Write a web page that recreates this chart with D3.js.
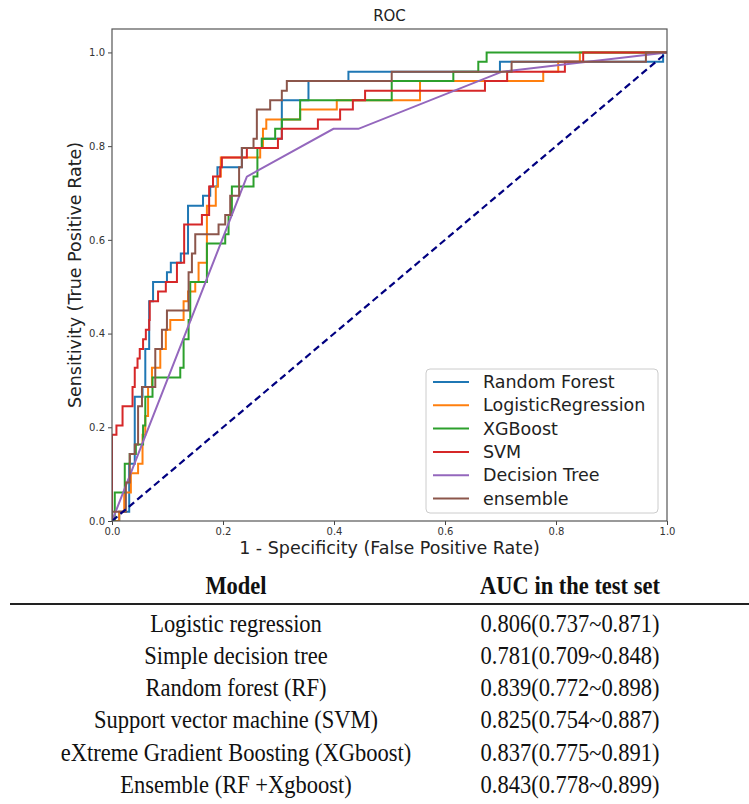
<!DOCTYPE html>
<html lang="en">
    <head>
        <meta charset="utf-8">
        <title>ROC</title>
        <script type="text/javascript" src="https://d3js.org/d3.v7.min.js"></script>
        <style type="text/css">
            body { margin: 0; background: #fff; }
        </style>
    </head>
    <body>
        <script type="text/javascript">
            // ROC points (false positive rate, true positive rate)
            var rfFpr = [0,0.013,0.013,0.031,0.031,0.041,0.041,0.055,0.055,0.060,0.060,0.067,0.067,0.074,0.074,0.099,0.099,0.106,0.106,0.124,0.124,0.137,0.137,0.164,0.164,0.177,0.177,0.190,0.190,0.234,0.234,0.270,0.270,0.306,0.306,0.354,0.354,0.426,0.426,0.699,0.699,0.993,0.993,1];
            var rfTpr = [0,0,0.020,0.020,0.122,0.122,0.265,0.265,0.286,0.286,0.367,0.367,0.469,0.469,0.510,0.510,0.531,0.531,0.551,0.551,0.571,0.571,0.673,0.673,0.694,0.694,0.714,0.714,0.755,0.755,0.796,0.796,0.816,0.816,0.898,0.898,0.939,0.939,0.959,0.959,0.980,0.980,1,1];

            var lrFpr = [0,0.013,0.013,0.022,0.022,0.034,0.034,0.047,0.047,0.055,0.055,0.060,0.060,0.065,0.065,0.072,0.072,0.087,0.087,0.097,0.097,0.105,0.105,0.129,0.129,0.137,0.137,0.150,0.150,0.156,0.156,0.171,0.171,0.187,0.187,0.191,0.191,0.196,0.196,0.267,0.267,0.272,0.272,0.278,0.278,0.339,0.339,0.405,0.405,0.555,0.555,0.777,0.777,0.804,0.804,0.843,0.843,1];
            var lrTpr = [0,0,0.020,0.020,0.061,0.061,0.102,0.102,0.122,0.122,0.184,0.184,0.224,0.224,0.286,0.286,0.327,0.327,0.367,0.367,0.408,0.408,0.429,0.429,0.469,0.469,0.490,0.490,0.510,0.510,0.551,0.551,0.673,0.673,0.714,0.714,0.735,0.735,0.776,0.776,0.796,0.796,0.837,0.837,0.857,0.857,0.878,0.878,0.898,0.898,0.939,0.939,0.959,0.959,0.980,0.980,1,1];

            var xgbFpr = [0,0.005,0.005,0.023,0.023,0.032,0.032,0.043,0.043,0.056,0.056,0.060,0.060,0.073,0.073,0.123,0.123,0.129,0.129,0.138,0.138,0.141,0.141,0.171,0.171,0.204,0.204,0.210,0.210,0.216,0.216,0.255,0.255,0.262,0.262,0.270,0.270,0.294,0.294,0.306,0.306,0.339,0.339,0.504,0.504,0.615,0.615,0.660,0.660,0.675,0.675,1];
            var xgbTpr = [0,0,0.061,0.061,0.122,0.122,0.143,0.143,0.163,0.163,0.204,0.204,0.265,0.265,0.306,0.306,0.327,0.327,0.388,0.388,0.429,0.429,0.510,0.510,0.592,0.592,0.612,0.612,0.653,0.653,0.714,0.714,0.735,0.735,0.796,0.796,0.816,0.816,0.837,0.837,0.857,0.857,0.898,0.898,0.939,0.939,0.959,0.959,0.980,0.980,1,1];

            var svmFpr = [0,0,0.008,0.008,0.019,0.019,0.037,0.037,0.041,0.041,0.046,0.046,0.050,0.050,0.056,0.056,0.061,0.061,0.067,0.067,0.068,0.068,0.083,0.083,0.097,0.097,0.117,0.117,0.130,0.130,0.162,0.162,0.175,0.175,0.182,0.182,0.195,0.195,0.198,0.198,0.243,0.243,0.299,0.299,0.306,0.306,0.371,0.371,0.411,0.411,0.434,0.434,0.456,0.456,0.672,0.672,0.712,0.712,0.816,0.816,0.849,0.849,1];
            var svmTpr = [0,0.184,0.184,0.204,0.204,0.245,0.245,0.286,0.286,0.327,0.327,0.347,0.347,0.367,0.367,0.388,0.388,0.408,0.408,0.429,0.429,0.469,0.469,0.490,0.490,0.510,0.510,0.551,0.551,0.633,0.633,0.653,0.653,0.714,0.714,0.735,0.735,0.755,0.755,0.776,0.776,0.796,0.796,0.816,0.816,0.837,0.837,0.857,0.857,0.878,0.878,0.898,0.898,0.918,0.918,0.939,0.939,0.959,0.959,0.980,0.980,1,1];

            var dtFpr = [0,0.243,0.399,0.444,0.703,1];
            var dtTpr = [0,0.735,0.837,0.837,0.959,1];

            var ensFpr = [0,0,0.025,0.025,0.032,0.032,0.041,0.041,0.047,0.047,0.054,0.054,0.078,0.078,0.090,0.090,0.099,0.099,0.138,0.138,0.144,0.144,0.150,0.150,0.192,0.192,0.204,0.204,0.213,0.213,0.229,0.229,0.234,0.234,0.255,0.255,0.261,0.261,0.285,0.285,0.306,0.306,0.315,0.315,0.504,0.504,0.720,0.720,0.962,0.962,1];
            var ensTpr = [0,0.020,0.020,0.082,0.082,0.143,0.143,0.163,0.163,0.245,0.245,0.286,0.286,0.367,0.367,0.408,0.408,0.449,0.449,0.531,0.531,0.571,0.571,0.612,0.612,0.633,0.633,0.653,0.653,0.694,0.694,0.755,0.755,0.796,0.796,0.816,0.816,0.878,0.878,0.898,0.898,0.918,0.918,0.939,0.939,0.959,0.959,0.980,0.980,1,1];

            var modelNames = ["Random Forest", "LogisticRegression", "XGBoost", "SVM", "Decision Tree", "ensemble"];
            var modelFpr = [rfFpr, lrFpr, xgbFpr, svmFpr, dtFpr, ensFpr];
            var modelTpr = [rfTpr, lrTpr, xgbTpr, svmTpr, dtTpr, ensTpr];
            var colors = ["#1f77b4", "#ff7f0e", "#2ca02c", "#d62728", "#9467bd", "#8c564b"];

            var ticks = [0, 0.2, 0.4, 0.6, 0.8, 1.0];

            // table under the plot
            var tableHeader = ["Model", "AUC in the test set"];
            var tableModels = ["Logistic regression", "Simple decision tree", "Random forest (RF)",
                               "Support vector machine (SVM)", "eXtreme Gradient Boosting (XGboost)", "Ensemble (RF +Xgboost)"];
            var tableAuc = ["0.806(0.737~0.871)", "0.781(0.709~0.848)", "0.839(0.772~0.898)",
                            "0.825(0.754~0.887)", "0.837(0.775~0.891)", "0.843(0.778~0.899)"];

            var w = 749;
            var h = 804;
            var plotL = 112, plotR = 667, plotT = 29, plotB = 521;
            var sans = "'DejaVu Sans', sans-serif";
            var serif = "'Liberation Serif', 'Times New Roman', serif";

            var svg = d3.select("body")
                        .append("svg")
                        .attr("width", w)
                        .attr("height", h);

            var x = d3.scaleLinear().domain([0, 1]).range([plotL, plotR]);
            var y = d3.scaleLinear().domain([0, 1.05]).range([plotB, plotT]);

            var line = d3.line()
                .x(function(d) { return x(d[0]); })
                .y(function(d) { return y(d[1]); });

            svg.append("defs").append("clipPath").attr("id", "plotclip")
               .append("rect")
               .attr("x", plotL).attr("y", plotT)
               .attr("width", plotR - plotL).attr("height", plotB - plotT);

            var curves = svg.append("g").attr("clip-path", "url(#plotclip)");

            modelNames.forEach(function(name, i) {
                var pts = modelFpr[i].map(function(f, j) { return [f, modelTpr[i][j]]; });
                curves.append("path")
                      .datum(pts)
                      .attr("d", line)
                      .attr("fill", "none")
                      .attr("stroke", colors[i])
                      .attr("stroke-width", 2)
                      .attr("stroke-linejoin", "miter");
            });

            // chance line
            curves.append("path")
                  .datum([[0, 0], [1, 1]])
                  .attr("d", line)
                  .attr("fill", "none")
                  .attr("stroke", "navy")
                  .attr("stroke-width", 2.2)
                  .attr("stroke-dasharray", "7,4");

            // axes
            var xAxis = d3.axisBottom(x).tickValues(ticks).tickFormat(d3.format(".1f")).tickSize(4).tickPadding(3);
            var yAxis = d3.axisLeft(y).tickValues(ticks).tickFormat(d3.format(".1f")).tickSize(4).tickPadding(3);

            var gx = svg.append("g").attr("transform", "translate(0," + plotB + ")").call(xAxis);
            var gy = svg.append("g").attr("transform", "translate(" + plotL + ",0)").call(yAxis);
            [gx, gy].forEach(function(g) {
                g.select(".domain").remove();
                g.selectAll("line").attr("stroke", "#444");
                g.selectAll("text").attr("font-family", sans).attr("font-size", "10px").attr("fill", "#333");
            });

            svg.append("rect")
               .attr("x", plotL).attr("y", plotT)
               .attr("width", plotR - plotL).attr("height", plotB - plotT)
               .attr("fill", "none")
               .attr("stroke", "#555")
               .attr("stroke-width", 1.2);

            svg.append("text")
               .text("ROC")
               .attr("x", (plotL + plotR) / 2)
               .attr("y", 21)
               .attr("text-anchor", "middle")
               .attr("font-family", sans)
               .attr("font-size", "15px")
               .attr("fill", "#222");

            svg.append("text")
               .text("1 - Specificity (False Positive Rate)")
               .attr("x", (plotL + plotR) / 2)
               .attr("y", 554)
               .attr("text-anchor", "middle")
               .attr("font-family", sans)
               .attr("font-size", "17.5px")
               .attr("fill", "#222");

            svg.append("text")
               .text("Sensitivity (True Positive Rate)")
               .attr("transform", "translate(81," + ((plotT + plotB) / 2) + ") rotate(-90)")
               .attr("text-anchor", "middle")
               .attr("font-family", sans)
               .attr("font-size", "17.5px")
               .attr("fill", "#222");

            // legend
            var legend = svg.append("g");
            legend.append("rect")
                  .attr("x", 426).attr("y", 369)
                  .attr("width", 232).attr("height", 144)
                  .attr("rx", 4)
                  .attr("fill", "#fff").attr("fill-opacity", 0.85)
                  .attr("stroke", "#ccc");

            var items = legend.selectAll("g.item")
                  .data(modelNames)
                  .enter()
                  .append("g")
                  .attr("transform", function(d, i) { return "translate(433," + (382 + i * 23.3) + ")"; });
            items.append("line")
                 .attr("x1", 0).attr("x2", 36)
                 .attr("stroke", function(d, i) { return colors[i]; })
                 .attr("stroke-width", 2);
            items.append("text")
                 .text(function(d) { return d; })
                 .attr("x", 50)
                 .attr("dy", "0.35em")
                 .attr("font-family", sans)
                 .attr("font-size", "17.5px")
                 .attr("fill", "#222");

            // AUC table
            var colX = [236, 570];
            tableHeader.forEach(function(t, i) {
                svg.append("text")
                   .text(t)
                   .attr("transform", "translate(" + colX[i] + ",585) scale(0.9,1)")
                   .attr("dy", "0.35em")
                   .attr("text-anchor", "middle")
                   .attr("font-family", serif)
                   .attr("font-weight", "bold")
                   .attr("font-size", "25px")
                   .attr("fill", "#111");
            });

            svg.append("line")
               .attr("x1", 10).attr("x2", 749)
               .attr("y1", 604).attr("y2", 604)
               .attr("stroke", "#222")
               .attr("stroke-width", 2);

            svg.selectAll("text.model")
               .data(tableModels)
               .enter()
               .append("text")
               .attr("class", "model")
               .text(function(d) { return d; })
               .attr("transform", function(d, i) { return "translate(" + colX[0] + "," + (623 + i * 32.2) + ") scale(0.9,1)"; })
               .attr("dy", "0.35em")
               .attr("text-anchor", "middle")
               .attr("font-family", serif)
               .attr("font-size", "25px")
               .attr("fill", "#111");

            svg.selectAll("text.auc")
               .data(tableAuc)
               .enter()
               .append("text")
               .attr("class", "auc")
               .text(function(d) { return d; })
               .attr("transform", function(d, i) { return "translate(" + colX[1] + "," + (623 + i * 32.2) + ") scale(0.9,1)"; })
               .attr("dy", "0.35em")
               .attr("text-anchor", "middle")
               .attr("font-family", serif)
               .attr("font-size", "25px")
               .attr("fill", "#111");
        </script>
    </body>
</html>
